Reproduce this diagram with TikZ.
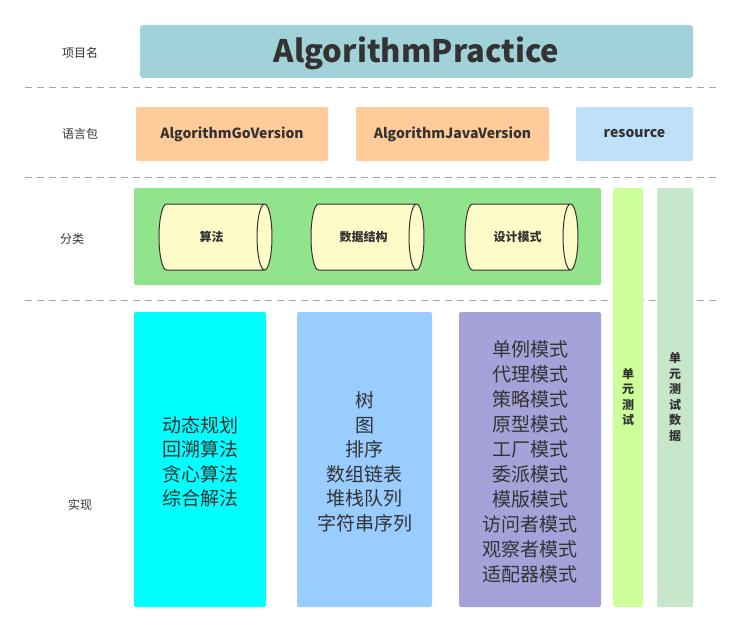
\documentclass[tikz,border=0pt]{standalone}
\usepackage{fontspec}
\setmainfont{Noto Sans CJK SC}
\usetikzlibrary{shapes.geometric}
\definecolor{titlec}{HTML}{A2D2D9}
\definecolor{orangec}{HTML}{FFCC99}
\definecolor{bluec}{HTML}{BEE0F8}
\definecolor{greenc}{HTML}{92E48C}
\definecolor{cylc}{HTML}{FFFBC9}
\definecolor{limec}{HTML}{CCFF99}
\definecolor{mintc}{HTML}{C8E6C9}
\definecolor{cyanc}{HTML}{00FFFF}
\definecolor{skyc}{HTML}{99CCFF}
\definecolor{purc}{HTML}{A5A2DA}
\definecolor{txt}{HTML}{333333}
\tikzset{
  lbl/.style={font=\fontsize{12}{14}\selectfont, text=txt},
  pkg/.style={font=\fontsize{14}{16}\selectfont\bfseries, text=txt},
  sep/.style={draw=gray!70, line width=0.8pt, dash pattern=on 7pt off 5pt},
  cyl/.style={cylinder, shape aspect=1.3, draw=black!80, line width=1pt, fill=cylc, minimum width=66pt, minimum height=113pt, font=\fontsize{12}{14}\selectfont\bfseries, text=txt, inner sep=0pt},
  list/.style={font=\fontsize{19}{24.5}\selectfont, text=txt, align=center},
  vbar/.style={font=\fontsize{12}{15.5}\selectfont\bfseries, text=txt, align=center}
}
\begin{document}
\begin{tikzpicture}[x=1pt,y=-1pt]
\useasboundingbox (0,0) rectangle (742,634);
% separators
\coordinate (s1a) at (25,87); \coordinate (s1b) at (718,87);
\coordinate (s2a) at (25,177); \coordinate (s2b) at (718,177);
\coordinate (s3a) at (25,300); \coordinate (s3b) at (718,300);
\draw[sep] (s1a) -- (s1b);
\draw[sep] (s2a) -- (s2b);
\draw[sep] (s3a) -- (s3b);
% row labels
\node[lbl] (l1) at (80,53) {项目名};
\node[lbl] (l2) at (80,134) {语言包};
\node[lbl] (l3) at (72,239) {分类};
\node[lbl] (l4) at (80,505) {实现};
% title
\fill[titlec, rounded corners=3pt] (140,25) rectangle (693,78);
\node[text=txt, font=\fontsize{31}{36}\selectfont\bfseries] (title) at (416.5,53) {AlgorithmPractice};
% language packages
\fill[orangec, rounded corners=2pt] (136,107) rectangle (328,161);
\node[pkg] (go) at (232,134) {AlgorithmGoVersion};
\fill[orangec, rounded corners=2pt] (356,107) rectangle (549,161);
\node[pkg] (java) at (452.5,134) {AlgorithmJavaVersion};
\fill[bluec, rounded corners=2pt] (576,107) rectangle (693,161);
\node[pkg] (res) at (634.5,134) {resource};
% classification
\fill[greenc, rounded corners=2pt] (134,188) rectangle (601,285);
\node[cyl] (c1) at (211.5,237) {算法};
\node[cyl] (c2) at (363.5,237) {数据结构};
\node[cyl] (c3) at (517.5,237) {设计模式};
% vertical bars
\fill[limec, rounded corners=2pt] (613,188) rectangle (643,607);
\node[vbar] (ut) at (628,397) {单\\元\\测\\试};
\fill[mintc, rounded corners=2pt] (657,188) rectangle (693,607);
\node[vbar] (utd) at (675,397) {单\\元\\测\\试\\数\\据};
% implementations
\fill[cyanc, rounded corners=2pt] (134,312) rectangle (266,607);
\node[list] (i1) at (200,462) {动态规划\\回溯算法\\贪心算法\\综合解法};
\fill[skyc, rounded corners=2pt] (297,312) rectangle (432,607);
\node[list] (i2) at (364.5,462) {树\\图\\排序\\数组链表\\堆栈队列\\字符串序列};
\fill[purc, rounded corners=2pt] (459,312) rectangle (601,607);
\node[list, font=\fontsize{19}{25}\selectfont] (i3) at (530,462) {单例模式\\代理模式\\策略模式\\原型模式\\工厂模式\\委派模式\\模版模式\\访问者模式\\观察者模式\\适配器模式};
\end{tikzpicture}
\end{document}
